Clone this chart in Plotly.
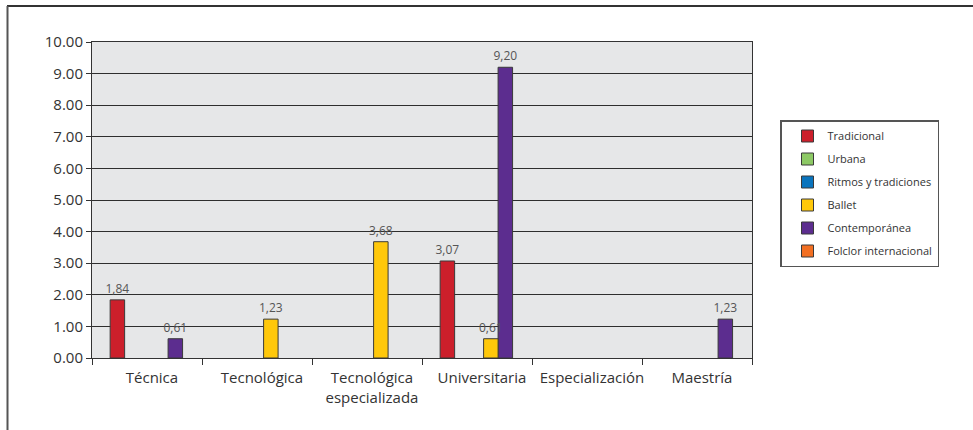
import plotly.graph_objects as go

categories = ["Técnica", "Tecnológica", "Tecnológica<br>especializada",
              "Universitaria", "Especialización", "Maestría"]

series_names = ["Tradicional", "Urbana", "Ritmos y tradiciones",
                "Ballet", "Contemporánea", "Folclor internacional"]

tradicional = [1.84, 0, 0, 3.07, 0, 0]
urbana = [0, 0, 0, 0, 0, 0]
ritmos = [0, 0, 0, 0, 0, 0]
ballet = [0, 1.23, 3.68, 0.61, 0, 0]
contemporanea = [0.61, 0, 0, 9.20, 0, 1.23]
folclor = [0, 0, 0, 0, 0, 0]

y_ticks = [0, 1, 2, 3, 4, 5, 6, 7, 8, 9, 10]

series_values = [tradicional, urbana, ritmos, ballet, contemporanea, folclor]
colors = ["#cc1f2b", "#8dc965", "#0a74bd", "#ffc80a", "#5c2d8f", "#f26f22"]

FONT = "Open Sans"
idx = list(range(len(categories)))
x_bars = [i + 0.06 for i in idx]
x_labels = [i + 0.045 for i in idx]

n = len(series_names)
group_w = 0.79
bar_w = group_w / n

# draw order: Ballet last so its labels sit above the neighbouring bar
draw_order = [0, 1, 2, 4, 5, 3]

fig = go.Figure()
for k in draw_order:
    name, vals, col = series_names[k], series_values[k], colors[k]
    txt = [f"{v:.2f}".replace(".", ",") if v else "" for v in vals]
    fig.add_trace(go.Bar(
        x=x_bars, y=[v if v else None for v in vals], name=name,
        legendgroup=name, legendrank=k + 1,
        offset=-group_w / 2 + k * bar_w, width=bar_w,
        marker=dict(color=col, line=dict(color="#3a3a3a", width=1)),
        text=txt, textposition="outside", constraintext="none",
        cliponaxis=False,
        textfont=dict(family=FONT, size=12, color="#555555"),
        hoverinfo="skip",
    ))

fig.update_layout(
    width=973, height=430,
    margin=dict(l=92, r=221, t=42, b=72, autoexpand=False),
    barmode="overlay",
    plot_bgcolor="#e6e7e8", paper_bgcolor="white",
    font=dict(family=FONT, size=15, color="#333333"),
    legend=dict(
        x=(780 - 92) / 660, xanchor="left",
        y=1 - (120 - 42) / 316, yanchor="top",
        bgcolor="white", bordercolor="#555555", borderwidth=1.5,
        font=dict(family=FONT, size=11, color="#333333"),
        tracegroupgap=4, traceorder="grouped", indentation=6,
        entrywidth=155, entrywidthmode="pixels",
    ),
    xaxis=dict(
        range=[-0.5, 5.5], tickmode="array", tickvals=x_labels,
        ticktext=categories, ticks="outside", ticklen=6,
        tickcolor="rgba(0,0,0,0)", showgrid=False, zeroline=False,
        showline=True, linecolor="#333333", linewidth=1, mirror=True,
        tickfont=dict(family=FONT, size=15, color="#333333"),
        minor=dict(tick0=-0.5, dtick=1, ticks="outside", ticklen=6,
                   tickcolor="#333333", showgrid=False),
    ),
    yaxis=dict(
        range=[0, 10], tickmode="array", tickvals=y_ticks,
        tickformat=".2f", ticks="outside", ticklen=5, tickcolor="#333333",
        showgrid=True, gridcolor="#2e2e2e", gridwidth=1, zeroline=False,
        showline=True, linecolor="#333333", linewidth=1, mirror=True,
        tickfont=dict(family=FONT, size=15, color="#333333"),
    ),
    shapes=[
        dict(type="line", xref="paper", yref="paper",
             x0=(7 - 92) / 660, x1=(975 - 92) / 660,
             y0=1 + (42 - 6) / 316, y1=1 + (42 - 6) / 316,
             line=dict(color="#333333", width=2)),
        dict(type="line", xref="paper", yref="paper",
             x0=(7.5 - 92) / 660, x1=(7.5 - 92) / 660,
             y0=1 + (42 - 6) / 316, y1=-0.3,
             line=dict(color="#555555", width=2)),
    ],
)

fig.write_html("out.html", config={"displayModeBar": False},
               post_script="document.body.style.margin='0px';")
